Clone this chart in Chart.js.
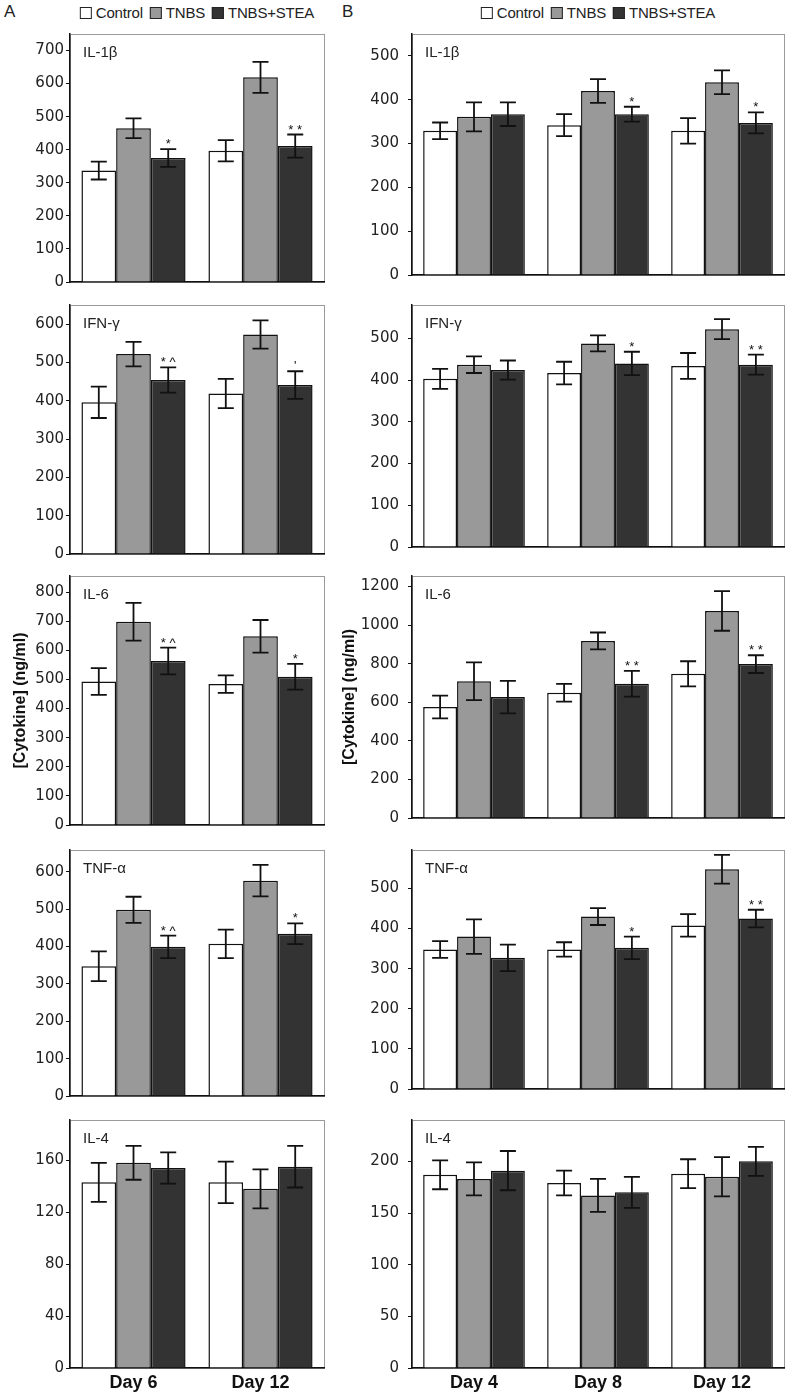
<!DOCTYPE html>
<html>
<head>
<meta charset="utf-8">
<script src="https://cdn.jsdelivr.net/npm/chart.js@4.4.1/dist/chart.umd.min.js"></script>
<style>
  body { margin: 0; background: #fff; font-family: 'Liberation Sans', Arial, sans-serif; }
  #page { position: relative; width: 795px; height: 1398px; overflow: hidden; }
  canvas { position: absolute; }
  .tag { position: absolute; top: 2px; font-size: 17px; color: #222; }
  .legend { position: absolute; top: 4px; display: flex; align-items: center; font-size: 15px; color: #222; letter-spacing: -0.2px; transform: translateX(-50%); white-space: nowrap; }
  .legend span.box { display: inline-block; width: 10px; height: 10px; border: 1px solid #222; margin: 0 4px 0 7px; }
</style>
</head>
<body>
<div id="page">
  <div class="tag" style="left:4px">A</div>
  <div class="tag" style="left:342px">B</div>
</div>
<script>
Chart.defaults.font.family = "'Liberation Sans', Arial, sans-serif";

const daysA = ['Day 6', 'Day 12'];
const daysB = ['Day 4', 'Day 8', 'Day 12'];
const groups = ['Control', 'TNBS', 'TNBS+STEA'];
const fills = ['#ffffff', '#999999', '#333333'];

// values per group: [Control], [TNBS], [TNBS+STEA]
const il1bA = [[337, 397], [465, 619], [375, 411]];
const il1bA_err = [[27, 32], [30, 47], [27, 35]];
const il1bA_marks = ['*', '* *'];
const il1bA_ticks = [0, 100, 200, 300, 400, 500, 600, 700];

const il1bB = [[329, 342, 329], [361, 420, 440], [367, 367, 347]];
const il1bB_err = [[19, 25, 29], [33, 27, 27], [27, 17, 24]];
const il1bB_marks = ['', '*', '*'];
const il1bB_ticks = [0, 100, 200, 300, 400, 500];

const ifngA = [[396, 419], [522, 573], [454, 441]];
const ifngA_err = [[41, 38], [32, 37], [33, 36]];
const ifngA_marks = ['* ^', "'"];
const ifngA_ticks = [0, 100, 200, 300, 400, 500, 600];

const ifngB = [[403, 417, 434], [437, 488, 522], [424, 440, 437]];
const ifngB_err = [[24, 27, 31], [20, 19, 24], [23, 28, 24]];
const ifngB_marks = ['', '*', '* *'];
const ifngB_ticks = [0, 100, 200, 300, 400, 500];

const il6A = [[493, 484], [698, 648], [563, 509]];
const il6A_err = [[46, 30], [65, 56], [46, 44]];
const il6A_marks = ['* ^', '*'];
const il6A_ticks = [0, 100, 200, 300, 400, 500, 600, 700, 800];

const il6B = [[576, 650, 748], [709, 918, 1074], [627, 696, 798]];
const il6B_err = [[59, 46, 65], [98, 44, 103], [84, 67, 46]];
const il6B_marks = ['', '* *', '* *'];
const il6B_ticks = [0, 200, 400, 600, 800, 1000, 1200];

const tnfA = [[347, 407], [498, 576], [399, 434]];
const tnfA_err = [[40, 38], [35, 42], [30, 28]];
const tnfA_marks = ['* ^', '*'];
const tnfA_ticks = [0, 100, 200, 300, 400, 500, 600];

const tnfB = [[348, 348, 408], [380, 430, 548], [327, 352, 425]];
const tnfB_err = [[21, 18, 28], [43, 21, 36], [33, 28, 22]];
const tnfB_marks = ['', '*', '* *'];
const tnfB_ticks = [0, 100, 200, 300, 400, 500];

const il4A = [[143, 143], [158, 138], [154, 155]];
const il4A_err = [[15, 16], [13, 15], [12, 16]];
const il4A_marks = ['', ''];
const il4A_ticks = [0, 40, 80, 120, 160];

const il4B = [[187, 179, 188], [183, 167, 185], [191, 170, 200]];
const il4B_err = [[14, 12, 14], [16, 16, 19], [19, 15, 14]];
const il4B_marks = ['', '', ''];
const il4B_ticks = [0, 50, 100, 150, 200];

const panels = [
  { name: 'IL-1β', col: 0, row: 0, days: daysA, vals: il1bA, err: il1bA_err, marks: il1bA_marks, ticks: il1bA_ticks, max: 750 },
  { name: 'IL-1β', col: 1, row: 0, days: daysB, vals: il1bB, err: il1bB_err, marks: il1bB_marks, ticks: il1bB_ticks, max: 550 },
  { name: 'IFN-γ', col: 0, row: 1, days: daysA, vals: ifngA, err: ifngA_err, marks: ifngA_marks, ticks: ifngA_ticks, max: 650 },
  { name: 'IFN-γ', col: 1, row: 1, days: daysB, vals: ifngB, err: ifngB_err, marks: ifngB_marks, ticks: ifngB_ticks, max: 580 },
  { name: 'IL-6', col: 0, row: 2, days: daysA, vals: il6A, err: il6A_err, marks: il6A_marks, ticks: il6A_ticks, max: 855, yTitle: true },
  { name: 'IL-6', col: 1, row: 2, days: daysB, vals: il6B, err: il6B_err, marks: il6B_marks, ticks: il6B_ticks, max: 1255, yTitle: true },
  { name: 'TNF-α', col: 0, row: 3, days: daysA, vals: tnfA, err: tnfA_err, marks: tnfA_marks, ticks: tnfA_ticks, max: 658 },
  { name: 'TNF-α', col: 1, row: 3, days: daysB, vals: tnfB, err: tnfB_err, marks: tnfB_marks, ticks: tnfB_ticks, max: 596 },
  { name: 'IL-4', col: 0, row: 4, days: daysA, vals: il4A, err: il4A_err, marks: il4A_marks, ticks: il4A_ticks, max: 191 },
  { name: 'IL-4', col: 1, row: 4, days: daysB, vals: il4B, err: il4B_err, marks: il4B_marks, ticks: il4B_ticks, max: 240 },
];

// layout of the two columns and five rows (chart area bounds)
const cols = [
  { left: 0, width: 340, yW: 70, padR: 16, tickPad: 2, titlePad: 11, center: 197 },
  { left: 340, width: 455, yW: 72, padR: 11, tickPad: 9, titlePad: 0, center: 598 },
];
const rows = [[34, 283], [305, 555], [576, 826], [850, 1097], [1120, 1368]];

const panelPlugin = {
  id: 'panelExtras',
  beforeDraw(chart) {
    const { ctx, chartArea: a } = chart;
    ctx.save();
    ctx.strokeStyle = '#9a9a9a';
    ctx.lineWidth = 1;
    ctx.strokeRect(a.left + 0.5, a.top + 0.5, a.right - a.left, a.bottom - a.top);
    ctx.restore();
  },
  afterDatasetsDraw(chart) {
    const { ctx } = chart;
    const y = chart.scales.y;
    const p = chart.options.panel;
    ctx.save();
    ctx.strokeStyle = '#111';
    ctx.lineWidth = 1.8;
    chart.data.datasets.forEach((ds, i) => {
      chart.getDatasetMeta(i).data.forEach((bar, j) => {
        const hi = y.getPixelForValue(ds.data[j] + ds.err[j]);
        const lo = y.getPixelForValue(ds.data[j] - ds.err[j]);
        ctx.beginPath();
        ctx.moveTo(bar.x, hi); ctx.lineTo(bar.x, lo);
        ctx.moveTo(bar.x - 8, hi); ctx.lineTo(bar.x + 8, hi);
        ctx.moveTo(bar.x - 8, lo); ctx.lineTo(bar.x + 8, lo);
        ctx.stroke();
        if (i === 2 && p.marks[j]) {
          ctx.fillStyle = '#111';
          ctx.font = "13px 'Liberation Sans', Arial, sans-serif";
          ctx.textAlign = 'center';
          ctx.textBaseline = 'alphabetic';
          ctx.fillText(p.marks[j], bar.x, hi - 1);
        }
      });
    });
    ctx.fillStyle = '#222';
    ctx.font = "15px 'Liberation Sans', Arial, sans-serif";
    ctx.textAlign = 'left';
    ctx.textBaseline = 'middle';
    ctx.fillText(p.name, chart.chartArea.left + 13, chart.chartArea.top + 19);
    ctx.restore();
  }
};

const page = document.getElementById('page');

cols.forEach((c) => {
  const lg = document.createElement('div');
  lg.className = 'legend';
  lg.style.left = c.center + 'px';
  groups.forEach((g, i) => {
    const b = document.createElement('span');
    b.className = 'box';
    b.style.background = fills[i];
    if (i === 0) b.style.marginLeft = '0';
    lg.appendChild(b);
    lg.appendChild(document.createTextNode(g));
  });
  page.appendChild(lg);
});

panels.forEach((p) => {
  const c = cols[p.col];
  const [top, bottom] = rows[p.row];
  const isBottom = p.row === 4;
  const xH = isBottom ? 30 : 6;
  const padB = isBottom ? 0 : 4;
  const canvas = document.createElement('canvas');
  canvas.width = c.width;
  canvas.height = 20 + (bottom - top) + xH + padB;
  canvas.style.left = c.left + 'px';
  canvas.style.top = (top - 20) + 'px';
  page.appendChild(canvas);

  new Chart(canvas.getContext('2d'), {
    type: 'bar',
    data: {
      labels: p.days,
      datasets: groups.map((g, i) => ({
        label: g,
        data: p.vals[i],
        err: p.err[i],
        backgroundColor: fills[i],
        borderColor: '#111',
        borderWidth: 1.5,
        barPercentage: 1,
        categoryPercentage: 0.82,
      })),
    },
    options: {
      responsive: false,
      animation: false,
      devicePixelRatio: 1,
      panel: p,
      layout: { padding: { top: 20, right: c.padR, bottom: padB, left: 0 } },
      plugins: { legend: { display: false }, tooltip: { enabled: false } },
      scales: {
        x: {
          grid: { display: false, drawTicks: false, tickLength: 0 },
          border: { display: true, color: '#111', width: 1.5 },
          ticks: { display: isBottom, color: '#111', padding: 4, font: { size: 18, weight: 'bold' } },
          afterFit(s) { s.height = xH; },
        },
        y: {
          min: 0,
          max: p.max,
          grid: { drawOnChartArea: false, drawTicks: true, tickLength: 4, color: '#111', lineWidth: 1 },
          border: { display: true, color: '#111', width: 1.5 },
          ticks: {
            color: '#222',
            padding: c.tickPad,
            font: { family: "'DejaVu Sans', sans-serif", size: 15 },
            callback: (v) => String(v),
          },
          afterBuildTicks(s) { s.ticks = p.ticks.map(v => ({ value: v })); },
          afterFit(s) { s.width = c.yW; },
          title: {
            display: !!p.yTitle,
            text: '[Cytokine] (ng/ml)',
            color: '#111',
            font: { size: 16, weight: 'bold' },
            padding: { top: c.titlePad, bottom: 0 },
          },
        },
      },
    },
    plugins: [panelPlugin],
  });
});
</script>
</body>
</html>
